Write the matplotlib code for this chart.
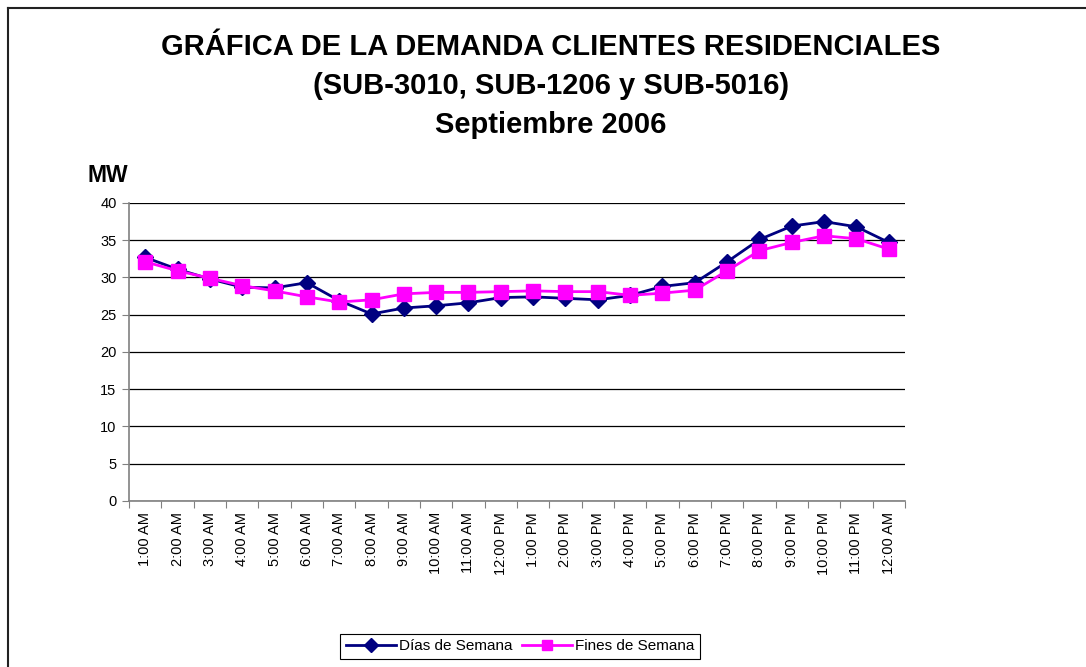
import matplotlib
matplotlib.use("Agg")
import matplotlib.pyplot as plt
from matplotlib.lines import Line2D

plt.rcParams['font.family'] = ['Liberation Sans', 'DejaVu Sans']

# horas del dia
horas = ["1:00 AM", "2:00 AM", "3:00 AM", "4:00 AM", "5:00 AM", "6:00 AM",
         "7:00 AM", "8:00 AM", "9:00 AM", "10:00 AM", "11:00 AM", "12:00 PM",
         "1:00 PM", "2:00 PM", "3:00 PM", "4:00 PM", "5:00 PM", "6:00 PM",
         "7:00 PM", "8:00 PM", "9:00 PM", "10:00 PM", "11:00 PM", "12:00 AM"]

# demanda en MW
dias_semana = [32.7, 31.1, 29.8, 28.7, 28.6, 29.3, 26.9, 25.1, 25.9, 26.2, 26.6, 27.3,
               27.4, 27.2, 27.0, 27.6, 28.8, 29.3, 32.1, 35.1, 36.9, 37.5, 36.8, 34.7]
fines_semana = [32.1, 30.9, 29.9, 28.9, 28.2, 27.4, 26.7, 27.0, 27.8, 28.0, 28.0, 28.1,
                28.2, 28.1, 28.1, 27.6, 27.9, 28.3, 30.9, 33.6, 34.7, 35.6, 35.2, 33.8]

yticks = [0, 5, 10, 15, 20, 25, 30, 35, 40]

fig = plt.figure(figsize=(10.86, 6.67), dpi=100)
ax = fig.add_axes([0.1188, 0.2489, 0.7145, 0.4468])

x = list(range(len(horas)))
ax.plot(x, dias_semana, color='#000080', lw=2, marker='D', markersize=8,
        label='Días de Semana', zorder=3)
ax.plot(x, fines_semana, color='#FF00FF', lw=2, marker='s', markersize=10,
        label='Fines de Semana', zorder=4)

ax.set_xlim(-0.5, len(horas) - 0.5)
ax.set_ylim(0, 40)
ax.set_yticks(yticks)
ax.yaxis.grid(True, color='black', lw=0.9)
ax.set_axisbelow(True)

# ticks entre categorias, etiquetas centradas
ax.set_xticks([i - 0.5 for i in range(len(horas) + 1)])
ax.set_xticklabels([])
ax.set_xticks(x, minor=True)
ax.set_xticklabels(horas, minor=True, rotation=90, fontsize=10.5)
ax.tick_params(axis='x', which='minor', length=0, pad=8)
ax.tick_params(axis='x', which='major', length=5, color='#808080')
ax.tick_params(axis='y', length=5, color='#808080', labelsize=10.5, pad=4)

for s in ['top', 'right']:
    ax.spines[s].set_visible(False)
ax.spines['left'].set_color('#808080')
ax.spines['bottom'].set_color('#808080')
ax.spines['left'].set_linewidth(1.2)
ax.spines['bottom'].set_linewidth(1.2)

fig.text(0.507, 0.950, "GRÁFICA DE LA DEMANDA CLIENTES RESIDENCIALES\n"
         "(SUB-3010, SUB-1206 y SUB-5016)\nSeptiembre 2006",
         ha='center', va='top', fontsize=21, fontweight='bold', linespacing=1.5)
fig.text(0.081, 0.737, "MW", fontsize=16.5, fontweight='bold', ha='left', va='center')

leg = fig.legend(loc='center', bbox_to_anchor=(0.479, 0.031), ncol=2, fontsize=11,
                 frameon=True, fancybox=False, edgecolor='black', framealpha=1,
                 handlelength=3.3, columnspacing=0.6, handletextpad=0.2,
                 borderpad=0.35)
leg.get_frame().set_linewidth(0.8)
for h in leg.legend_handles:
    h.set_markersize(7)

# borde del area del grafico
fig.add_artist(Line2D([8 / 1086, 8 / 1086], [0, 1 - 8 / 667], color='#222222', lw=1.5))
fig.add_artist(Line2D([8 / 1086, 1], [1 - 8 / 667, 1 - 8 / 667], color='#222222', lw=1.5))

fig.savefig("out.png", dpi=100)
